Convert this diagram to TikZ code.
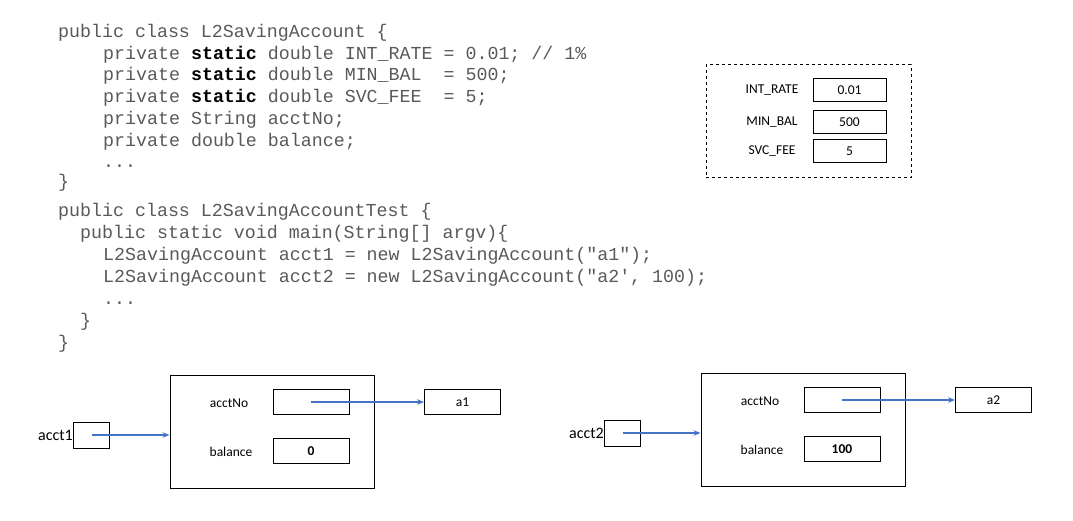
\documentclass[tikz,border=0pt]{standalone}
\usepackage{fontspec}
\usetikzlibrary{arrows.meta}
\newfontfamily\codefont{Liberation Mono}
\newfontfamily\lblfont{Carlito}
\definecolor{arrowblue}{HTML}{4472C4}

\tikzset{
  code/.style={font=\codefont\fontsize{18.3}{22}\selectfont, text=black!65, anchor=base west, inner sep=0pt},
  lbl/.style={font=\lblfont\fontsize{13.5}{16}\selectfont, inner sep=0pt},
  cell/.style={draw, line width=1pt, minimum width=76, minimum height=25, font=\lblfont\fontsize{13.5}{16}\selectfont},
  objbox/.style={draw, line width=1pt, minimum width=204, minimum height=113},
  refbox/.style={draw, line width=1pt, minimum width=36, minimum height=26},
  ptr/.style={draw=arrowblue, line width=1.1pt, -{Stealth[length=7pt,width=5.5pt]}}
}

\begin{document}
\begin{tikzpicture}[x=1pt, y=-1pt]
\useasboundingbox (0,0) rectangle (1073,521);

% the class and its test
\node[code] (c1)  at (58,38)  {public class L2SavingAccount \{};
\node[code] (c2)  at (103,60) {private {\bfseries\color{black}static} double INT\_RATE = 0.01; // 1\%};
\node[code] (c3)  at (103,81) {private {\bfseries\color{black}static} double MIN\_BAL\ \ = 500;};
\node[code] (c4)  at (103,103) {private {\bfseries\color{black}static} double SVC\_FEE\ \ = 5;};
\node[code] (c5)  at (103,125) {private String acctNo;};
\node[code] (c6)  at (103,147) {private double balance;};
\node[code] (c7)  at (103,168) {...};
\node[code] (c8)  at (58,188) {\}};
\node[code] (c9)  at (58,217) {public class L2SavingAccountTest \{};
\node[code] (c10) at (80,239) {public static void main(String[] argv)\{};
\node[code] (c11) at (103,261) {L2SavingAccount acct1 = new L2SavingAccount("a1");};
\node[code] (c12) at (103,283) {L2SavingAccount acct2 = new L2SavingAccount("a2', 100);};
\node[code] (c13) at (103,304) {...};
\node[code] (c14) at (80,326) {\}};
\node[code] (c15) at (58,348) {\}};

% static fields
\node[draw, dashed, line width=1pt, minimum width=205, minimum height=113] (consts) at (808.5,121.5) {};
\foreach \nm/\v/\y [count=\i] in {INT\_RATE/0.01/90, MIN\_BAL/500/122, SVC\_FEE/5/151}{
  \node[lbl] (cname\i) at (772,\y) {\nm};
  \node[cell, minimum width=73, minimum height=23] (cval\i) at (849.5,\y) {\v};
}

% the two objects
\foreach \k/\val in {1/0, 2/100}{
  \begin{scope}[shift={({531*(\k-1)},{-2*(\k-1)})}]
    \node[objbox] (obj\k) at (272,431.5) {};
    \node[lbl] (nolbl\k) at (229,403) {acctNo};
    \node[cell] (no\k) at (311,402) {};
    \node[lbl] (ballbl\k) at (231,452) {balance};
    \node[cell, font=\lblfont\bfseries\fontsize{13.5}{16}\selectfont] (bal\k) at (311,451) {\val};
    \node[refbox] (ref\k) at (91.5,435) {};
    \node[lbl, font=\lblfont\fontsize{16}{19}\selectfont, anchor=east] (acct\k) at (ref\k.west) {acct\k};
    \node[cell] (str\k) at (462.5,402) {a\k};
    \draw[ptr] (ref\k.center) -- (ref\k.center -| obj\k.west);
    \draw[ptr] (no\k.center) -- (str\k.west);
  \end{scope}
}
\end{tikzpicture}
\end{document}
